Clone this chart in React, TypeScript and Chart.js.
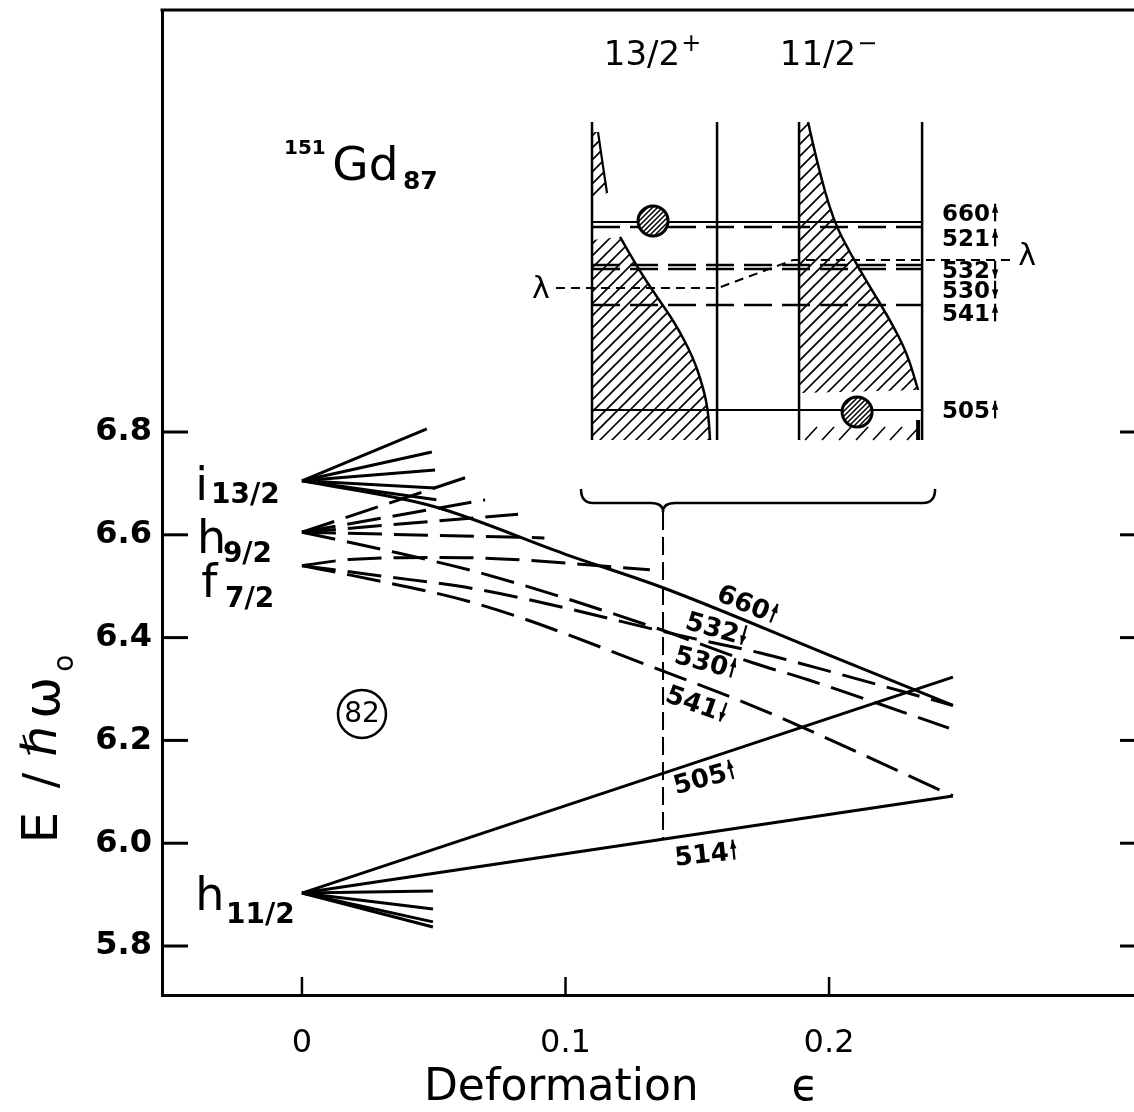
import React, { useEffect, useRef } from 'react';
import { Chart, registerables } from 'chart.js';

Chart.register(...registerables);

const FONT = '"DejaVu Sans", "Liberation Sans", Arial, sans-serif';

/* ---------------- axes ---------------- */
const X_MIN = -0.0531;
const X_MAX = 0.3157;
const Y_MIN = 5.7047;
const Y_MAX = 7.621;
const X_TICKS = [0, 0.1, 0.2];
const X_TICK_LABELS = ['0', '0.1', '0.2'];
const Y_TICKS = [5.8, 6.0, 6.2, 6.4, 6.6, 6.8];
const Y_TICK_LABELS = ['5.8', '6.0', '6.2', '6.4', '6.6', '6.8'];

/* ---------------- data ---------------- */
// spherical shell-model levels at deformation 0
const SPHERICAL_NAMES = ['i', 'h', 'f', 'h'];
const SPHERICAL_SUBS = ['13/2', '9/2', '7/2', '11/2'];
const SPHERICAL_E = [6.705, 6.605, 6.54, 5.903];

// short fan stubs
const I13_STUB_EPS = [0.0474, 0.0493, 0.0505, 0.0505, 0.051];
const I13_STUB_E = [6.806, 6.761, 6.726, 6.691, 6.668];
const H9_STUB_EPS = [0.066, 0.0695, 0.082, 0.092];
const H9_STUB_E = [6.718, 6.668, 6.64, 6.594];
const H11_STUB_EPS = [0.0497, 0.0497, 0.0497, 0.0497];
const H11_STUB_E = [5.907, 5.872, 5.847, 5.837];

// long Nilsson orbitals
const EPS_660 = [0, 0.05, 0.1, 0.137, 0.2, 0.247];
const E_660 = [6.705, 6.655, 6.562, 6.497, 6.366, 6.268];
const EPS_532 = [0, 0.03, 0.0676, 0.133, 0.171, 0.192, 0.2455];
const E_532 = [6.605, 6.572, 6.526, 6.421, 6.351, 6.318, 6.224];
const EPS_530 = [0, 0.03, 0.0676, 0.148, 0.174, 0.194, 0.247];
const E_530 = [6.54, 6.52, 6.493, 6.399, 6.37, 6.343, 6.268];
const EPS_541 = [0, 0.018, 0.067, 0.137, 0.173, 0.247];
const E_541 = [6.54, 6.522, 6.465, 6.335, 6.263, 6.092];
const EPS_521 = [0, 0.018, 0.05, 0.0676, 0.132];
const E_521 = [6.54, 6.552, 6.556, 6.555, 6.532];
const EPS_505 = [0, 0.247];
const E_505 = [5.903, 6.323];
const EPS_514 = [0, 0.247];
const E_514 = [5.903, 6.092];
// equilibrium deformation marker
const FERMI_EPS = [0.137, 0.137];
const FERMI_E = [6.6444, 6.008];

// labels of the long orbitals
const ORBITAL_LABELS = ['660', '532', '530', '541', '505', '514'];
const ORBITAL_ARROWS = ['up', 'down', 'up', 'down', 'up', 'up'];

// inset (schematic level scheme at the equilibrium deformation)
const INSET_LEVEL_NAMES = ['660', '521', '532', '530', '541', '505'];
const INSET_LEVEL_ARROWS = ['up', 'up', 'down', 'down', 'up', 'up'];
const INSET_LEVEL_E = [7.2086, 7.1988, 7.1249, 7.1171, 7.0471, 6.8428];
const INSET_LEVEL_DASHED = [false, true, true, true, true, false];
const INSET_TITLES = ['13/2', '11/2'];
const INSET_TITLE_SIGNS = ['+', '\u2212'];

/* ---------------- layout (positions in data units) ---------------- */
const SPH_LABEL_EPS = [-0.0405, -0.0398, -0.0382, -0.0405];
const SPH_LABEL_E = [6.6677, 6.5646, 6.479, 5.87];
const SPH_SUB_EPS = [-0.0345, -0.03, -0.0292, -0.0288];
const SPH_SUB_E = [6.6619, 6.5471, 6.4595, 5.8447];

const ORB_LABEL_EPS = [0.1693, 0.1575, 0.1533, 0.1499, 0.1526, 0.1533];
const ORB_LABEL_E = [6.467, 6.419, 6.354, 6.273, 6.129, 5.981];
const ORB_LABEL_ANGLE = [22, 16, 15, 20, -15, -6];

const INSET_COLS = [0.11006, 0.1575, 0.18861, 0.2353];
const INSET_TOP = 7.4031;
const INSET_BOTTOM = 6.7844;
const INSET_LABEL_EPS = 0.24288;
const INSET_LABEL_E = [7.2261, 7.1774, 7.1152, 7.0763, 7.0315, 6.8428];
const INSET_TITLE_EPS = [0.13283, 0.19962];
const INSET_TITLE_E = 7.514;
const LAMBDA_EPS = [0.09639, 0.15787, 0.18634, 0.26983];
const LAMBDA_E = [7.0802, 7.0802, 7.1346, 7.1346];
const LAMBDA_LABEL_EPS = [0.0907, 0.27514];
const LAMBDA_LABEL_E = [7.0763, 7.1405];
const OCC_EPS = [0.13321, 0.21063];
const OCC_E = [7.2105, 6.8389];

type Pt = [number, number];
const HATCH_SLIVER: Pt[] = [[0.11006, 7.3837], [0.11233, 7.3837], [0.11385, 7.33], [0.11575, 7.265], [0.11006, 7.2553]];
const HATCH_LEFT: Pt[] = [[0.11006, 7.1735], [0.12068, 7.1794], [0.12713, 7.121], [0.13472, 7.0626], [0.14156, 7.0121], [0.14839, 6.9459], [0.15218, 6.8875], [0.15408, 6.8428], [0.15484, 6.7844], [0.11006, 6.7844]];
const HATCH_RIGHT: Pt[] = [[0.18861, 7.4031], [0.19203, 7.4031], [0.19545, 7.3233], [0.20152, 7.2125], [0.20797, 7.1482], [0.21556, 7.0821], [0.22315, 7.0179], [0.2296, 6.9537], [0.23378, 6.8817], [0.18861, 6.8759]];

/* ---------------- datasets ---------------- */
const DASH = [34, 12];
function orbit(eps: number[], en: number[], dashed: boolean): any {
  return {
    data: eps.map((x, i) => ({ x, y: en[i] })),
    showLine: true,
    borderColor: '#000',
    backgroundColor: '#000',
    borderWidth: 3,
    borderDash: dashed ? DASH : [],
    borderCapStyle: 'butt',
    pointRadius: 0,
    pointHoverRadius: 0,
    fill: false,
    tension: 0,
    cubicInterpolationMode: eps.length > 2 ? 'monotone' : 'default',
  };
}

function buildDatasets(): any[] {
  const ds: any[] = [];
  I13_STUB_EPS.forEach((x, i) => ds.push(orbit([0, x], [SPHERICAL_E[0], I13_STUB_E[i]], false)));
  H9_STUB_EPS.forEach((x, i) => ds.push(orbit([0, x], [SPHERICAL_E[1], H9_STUB_E[i]], true)));
  H11_STUB_EPS.forEach((x, i) => ds.push(orbit([0, x], [SPHERICAL_E[3], H11_STUB_E[i]], false)));
  ds.push(orbit(EPS_660, E_660, false));
  ds.push(orbit(EPS_532, E_532, true));
  ds.push(orbit(EPS_530, E_530, true));
  ds.push(orbit(EPS_541, E_541, true));
  ds.push(orbit(EPS_521, E_521, true));
  ds.push(orbit(EPS_505, E_505, false));
  ds.push(orbit(EPS_514, E_514, false));
  const f = orbit(FERMI_EPS, FERMI_E, true);
  f.borderWidth = 2;
  f.borderDash = [18, 7];
  ds.push(f);
  return ds;
}

/* ---------------- decoration plugin ---------------- */
const decorPlugin = {
  id: 'decor',
  afterDraw(chart: any) {
    const ctx: CanvasRenderingContext2D = chart.ctx;
    const xs = chart.scales.x;
    const ys = chart.scales.y;
    const X = (e: number) => xs.getPixelForValue(e);
    const Y = (v: number) => ys.getPixelForValue(v);
    const ca = chart.chartArea;

    ctx.save();
    ctx.strokeStyle = '#000';
    ctx.fillStyle = '#000';
    ctx.lineCap = 'butt';

    const seg = (x1: number, y1: number, x2: number, y2: number, lw: number, dash: number[] = []) => {
      ctx.beginPath();
      ctx.setLineDash(dash);
      ctx.lineWidth = lw;
      ctx.moveTo(x1, y1);
      ctx.lineTo(x2, y2);
      ctx.stroke();
      ctx.setLineDash([]);
    };
    const text = (s: string, x: number, y: number, font: string, align: CanvasTextAlign = 'left', base: CanvasTextBaseline = 'alphabetic') => {
      ctx.font = font;
      ctx.textAlign = align;
      ctx.textBaseline = base;
      ctx.fillText(s, x, y);
    };
    const arrow = (x: number, yb: number, h: number, up: boolean, lw: number) => {
      ctx.lineWidth = lw;
      ctx.beginPath();
      ctx.moveTo(x, yb);
      ctx.lineTo(x, yb - h);
      ctx.stroke();
      const tip = up ? yb - h : yb;
      const dir = up ? 1 : -1;
      ctx.beginPath();
      ctx.moveTo(x, tip);
      ctx.lineTo(x - 3.2, tip + dir * 9);
      ctx.lineTo(x + 3.2, tip + dir * 9);
      ctx.closePath();
      ctx.fill();
    };
    // text + arrow, centred at (cx, cy), rotated
    const arrowLabel = (s: string, up: boolean, cx: number, cy: number, angle: number, size: number, align: 'center' | 'left') => {
      ctx.save();
      ctx.translate(cx, cy);
      ctx.rotate((angle * Math.PI) / 180);
      ctx.font = `bold ${size}px ${FONT}`;
      const w = ctx.measureText(s).width;
      const cap = size * 0.73;
      const total = w + 9;
      const x0 = align === 'center' ? -total / 2 : 0;
      ctx.textAlign = 'left';
      ctx.textBaseline = 'alphabetic';
      ctx.fillText(s, x0, cap / 2);
      arrow(x0 + w + 5, cap / 2, cap * 1.05, up, 2.2);
      ctx.restore();
    };
    const smoothStroke = (pts: Pt[], lw: number) => {
      const p = pts.map(([e, v]) => [X(e), Y(v)]);
      ctx.beginPath();
      ctx.lineWidth = lw;
      ctx.moveTo(p[0][0], p[0][1]);
      for (let i = 1; i < p.length - 1; i++) {
        const mx = (p[i][0] + p[i + 1][0]) / 2;
        const my = (p[i][1] + p[i + 1][1]) / 2;
        ctx.quadraticCurveTo(p[i][0], p[i][1], mx, my);
      }
      ctx.lineTo(p[p.length - 1][0], p[p.length - 1][1]);
      ctx.stroke();
    };
    const hatch = (pathFn: () => void, spacing: number, lw: number) => {
      ctx.save();
      ctx.beginPath();
      pathFn();
      ctx.clip();
      ctx.lineWidth = lw;
      ctx.beginPath();
      const W = 1200;
      for (let k = -W; k < W * 2; k += spacing) {
        ctx.moveTo(k, 1100);
        ctx.lineTo(k + 1100, 0);
      }
      ctx.stroke();
      ctx.restore();
    };
    const polyPath = (pts: Pt[]) => () => {
      pts.forEach(([e, v], i) => (i ? ctx.lineTo(X(e), Y(v)) : ctx.moveTo(X(e), Y(v))));
      ctx.closePath();
    };

    /* frame top + inward ticks */
    seg(ca.left - 1.5, ca.top, ca.right, ca.top, 3);
    Y_TICKS.forEach((v) => {
      seg(ca.left, Y(v), ca.left + 26, Y(v), 3);
      seg(ca.right - 14, Y(v), ca.right, Y(v), 3);
    });
    X_TICKS.forEach((e) => seg(X(e), ca.bottom, X(e), ca.bottom - 18, 2.5));

    /* axis titles */
    text('Deformation', X(0.0463), ca.bottom + 105, `44px ${FONT}`);
    text('\u03F5', X(0.1857), ca.bottom + 105, `44px ${FONT}`);
    const yt: [string, number, number, number][] = [
      ['E', 6.03, 0, 50],
      ['/', 6.122, 0, 46],
      ['\u210F', 6.198, 0, 48],
      ['\u03C9', 6.283, 2, 50],
      ['o', 6.35, 22, 28],
    ];
    yt.forEach(([s, v, dx, size]) => {
      ctx.save();
      ctx.translate(ca.left - 118 + dx, Y(v));
      ctx.rotate(-Math.PI / 2);
      text(s, 0, 0, `${size}px ${FONT}`, 'center', 'middle');
      ctx.restore();
    });

    /* spherical level labels */
    SPHERICAL_NAMES.forEach((n, i) => {
      text(n, X(SPH_LABEL_EPS[i]), Y(SPH_LABEL_E[i]), `46px ${FONT}`);
      text(SPHERICAL_SUBS[i], X(SPH_SUB_EPS[i]), Y(SPH_SUB_E[i]), `bold 28px ${FONT}`);
    });

    /* nucleus label */
    text('151', X(-0.0068), Y(7.3409), `bold 20px ${FONT}`);
    text('Gd', X(0.0115), Y(7.2903), `47px ${FONT}`);
    text('87', X(0.0383), Y(7.2728), `bold 25px ${FONT}`);

    /* magic number 82 */
    ctx.lineWidth = 2.5;
    ctx.beginPath();
    ctx.arc(X(0.02277), Y(6.2514), 24, 0, Math.PI * 2);
    ctx.stroke();
    text('82', X(0.02277), Y(6.2514) + 1, `28px ${FONT}`, 'center', 'middle');

    /* orbital labels on the long lines */
    ORBITAL_LABELS.forEach((s, i) => {
      arrowLabel(s, ORBITAL_ARROWS[i] === 'up', X(ORB_LABEL_EPS[i]), Y(ORB_LABEL_E[i]), ORB_LABEL_ANGLE[i], 26, 'center');
    });

    /* brace */
    ctx.lineWidth = 2.5;
    ctx.beginPath();
    ctx.moveTo(X(0.10588), Y(6.6891));
    ctx.quadraticCurveTo(X(0.10588), Y(6.6619), X(0.11044), Y(6.6619));
    ctx.lineTo(X(0.13245), Y(6.6619));
    ctx.quadraticCurveTo(X(0.137), Y(6.6619), X(0.137), Y(6.6444));
    ctx.quadraticCurveTo(X(0.137), Y(6.6619), X(0.14156), Y(6.6619));
    ctx.lineTo(X(0.23567), Y(6.6619));
    ctx.quadraticCurveTo(X(0.24023), Y(6.6619), X(0.24023), Y(6.6891));
    ctx.stroke();

    /* ---------- inset ---------- */
    INSET_TITLES.forEach((s, i) => {
      ctx.font = `34px ${FONT}`;
      const w = ctx.measureText(s).width;
      ctx.font = `24px ${FONT}`;
      const w2 = ctx.measureText(INSET_TITLE_SIGNS[i]).width;
      const x0 = X(INSET_TITLE_EPS[i]) - (w + w2) / 2;
      text(s, x0, Y(INSET_TITLE_E), `34px ${FONT}`);
      text(INSET_TITLE_SIGNS[i], x0 + w + 1, Y(INSET_TITLE_E) - 14, `24px ${FONT}`);
    });
    hatch(polyPath(HATCH_SLIVER), 12, 1.6);
    hatch(polyPath(HATCH_LEFT), 12, 1.6);
    hatch(polyPath(HATCH_RIGHT), 12, 1.6);
    smoothStroke(HATCH_SLIVER.slice(1, 4), 2.2);
    smoothStroke(HATCH_LEFT.slice(1, 9), 2.5);
    smoothStroke(HATCH_RIGHT.slice(1, 9), 2.5);
    {
      const yb = Y(INSET_BOTTOM);
      const yt2 = Y(6.8097);
      for (let x = X(INSET_COLS[2]) + 6; x < X(INSET_COLS[3]) - 14; x += 17) seg(x, yb, x + 12, yt2, 1.6);
      seg(X(0.23378), Y(6.8233), X(0.23378), yb, 4);
    }
    INSET_COLS.forEach((e) => seg(X(e), Y(INSET_TOP), X(e), Y(INSET_BOTTOM), 2.5));
    INSET_LEVEL_E.forEach((v, i) => {
      seg(X(INSET_COLS[0]), Y(v), X(INSET_COLS[3]), Y(v), INSET_LEVEL_DASHED[i] ? 2.6 : 2, INSET_LEVEL_DASHED[i] ? [28, 10] : []);
      arrowLabel(INSET_LEVEL_NAMES[i], INSET_LEVEL_ARROWS[i] === 'up', X(INSET_LABEL_EPS), Y(INSET_LABEL_E[i]), 0, 23, 'left');
    });
    ctx.beginPath();
    ctx.setLineDash([9, 6]);
    ctx.lineWidth = 2;
    LAMBDA_EPS.forEach((e, i) => (i ? ctx.lineTo(X(e), Y(LAMBDA_E[i])) : ctx.moveTo(X(e), Y(LAMBDA_E[i]))));
    ctx.stroke();
    ctx.setLineDash([]);
    text('\u03BB', X(LAMBDA_LABEL_EPS[0]), Y(LAMBDA_LABEL_E[0]), `30px ${FONT}`, 'center', 'middle');
    text('\u03BB', X(LAMBDA_LABEL_EPS[1]), Y(LAMBDA_LABEL_E[1]), `30px ${FONT}`, 'center', 'middle');
    OCC_EPS.forEach((e, i) => {
      const cx = X(e);
      const cy = Y(OCC_E[i]);
      ctx.beginPath();
      ctx.fillStyle = '#fff';
      ctx.arc(cx, cy, 15, 0, Math.PI * 2);
      ctx.fill();
      ctx.fillStyle = '#000';
      hatch(() => ctx.arc(cx, cy, 15, 0, Math.PI * 2), 5, 1.5);
      ctx.beginPath();
      ctx.lineWidth = 3;
      ctx.arc(cx, cy, 15, 0, Math.PI * 2);
      ctx.stroke();
    });

    ctx.restore();
  },
};

export default function App() {
  const ref = useRef<HTMLCanvasElement | null>(null);
  useEffect(() => {
    document.body.style.margin = '0';
    Chart.defaults.font.family = FONT;
    const canvas = ref.current;
    if (!canvas) return;
    const chart = new Chart(canvas, {
      type: 'scatter',
      data: { datasets: buildDatasets() },
      options: {
        animation: false,
        responsive: false,
        maintainAspectRatio: false,
        devicePixelRatio: 1,
        layout: { padding: { top: 10, left: 0, right: 0, bottom: 0 } },
        plugins: { legend: { display: false }, tooltip: { enabled: false } },
        events: [],
        scales: {
          x: {
            type: 'linear',
            min: X_MIN,
            max: X_MAX,
            afterBuildTicks: (s: any) => {
              s.ticks = X_TICKS.map((v) => ({ value: v }));
            },
            afterFit: (s: any) => {
              s.height = 117;
              s.paddingLeft = 0;
              s.paddingRight = 0;
              s.paddingTop = 0;
              s.paddingBottom = 0;
            },
            ticks: {
              callback: (_v: any, i: number) => X_TICK_LABELS[i],
              font: { family: FONT, size: 32, weight: 'normal' },
              color: '#000',
              padding: 29,
              maxRotation: 0,
              autoSkip: false,
            },
            grid: { display: false, drawTicks: false },
            border: { display: true, color: '#000', width: 3 },
          },
          y: {
            type: 'linear',
            min: Y_MIN,
            max: Y_MAX,
            afterBuildTicks: (s: any) => {
              s.ticks = Y_TICKS.map((v) => ({ value: v }));
            },
            afterFit: (s: any) => {
              s.width = 162;
              s.paddingTop = 0;
              s.paddingBottom = 0;
              s.paddingLeft = 0;
              s.paddingRight = 0;
            },
            ticks: {
              callback: (_v: any, i: number) => Y_TICK_LABELS[i],
              font: { family: FONT, size: 32, weight: 'bold' },
              color: '#000',
              padding: 10,
              autoSkip: false,
            },
            grid: { display: false, drawTicks: false },
            border: { display: true, color: '#000', width: 3 },
          },
        },
      } as any,
      plugins: [decorPlugin],
    });
    return () => chart.destroy();
  }, []);
  return (
    <div style={{ width: 1134, height: 1112, overflow: 'hidden', background: '#fff', position: 'relative' }}>
      <canvas ref={ref} width={1134} height={1112} style={{ display: 'block', width: 1134, height: 1112 }} />
    </div>
  );
}
